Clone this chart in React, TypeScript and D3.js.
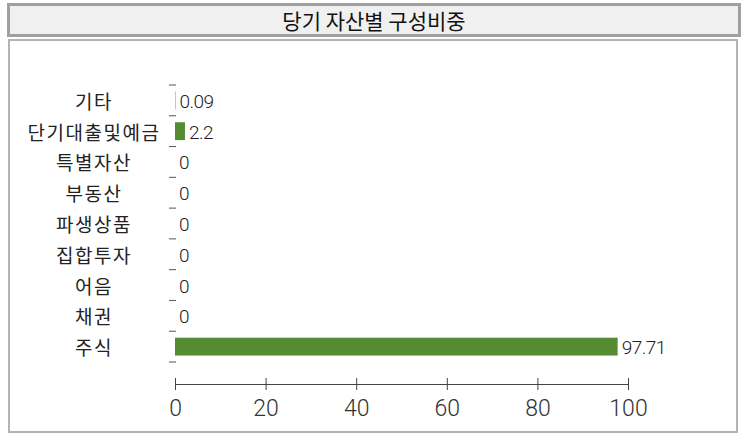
import React, { useEffect, useRef } from 'react';
import * as d3 from 'd3';

const title = '당기 자산별 구성비중';
const categories = ['기타', '단기대출및예금', '특별자산', '부동산', '파생상품', '집합투자', '어음', '채권', '주식'];
const values = [0.09, 2.2, 0, 0, 0, 0, 0, 0, 97.71];
const xTicks = [0, 20, 40, 60, 80, 100];

const FONT = "'Noto Sans CJK KR', 'Noto Sans', sans-serif";
const NUM_FONT = "Roboto, 'Noto Sans', sans-serif";

const App = () => {
  const ref = useRef<SVGSVGElement>(null);

  useEffect(() => {
    const svg = d3.select(ref.current);
    svg.selectAll('*').remove();

    // title box
    svg
      .append('rect')
      .attr('x', 8.5)
      .attr('y', 4.5)
      .attr('width', 731)
      .attr('height', 31)
      .attr('fill', '#f0f0f0')
      .attr('stroke', '#a0a0a0')
      .attr('stroke-width', 3);
    svg
      .append('text')
      .attr('x', 374)
      .attr('y', 20)
      .attr('text-anchor', 'middle')
      .attr('dominant-baseline', 'central')
      .style('font-family', FONT)
      .style('font-size', '21px')
      .attr('fill', '#111')
      .text(title);

    // panel
    svg
      .append('rect')
      .attr('x', 9)
      .attr('y', 40)
      .attr('width', 728)
      .attr('height', 392)
      .attr('fill', '#fff')
      .attr('stroke', '#b4b4b4')
      .attr('stroke-width', 2);

    const x = d3.scaleLinear().domain([0, 100]).range([175, 628]);
    const y = d3.scaleBand<string>().domain(categories).range([85, 362]).paddingInner(0.42).paddingOuter(0.21);
    const step = y.step();
    const top = 85;

    // y tick marks at band boundaries
    const bounds = d3.range(categories.length + 1).map(i => top + i * step);
    svg
      .append('g')
      .selectAll('line')
      .data(bounds)
      .join('line')
      .attr('x1', 169)
      .attr('x2', 176)
      .attr('y1', d => d)
      .attr('y2', d => d)
      .attr('stroke', '#555')
      .attr('stroke-width', 1);

    // category labels
    svg
      .append('g')
      .selectAll('text')
      .data(categories)
      .join('text')
      .attr('x', 94)
      .attr('y', (d, i) => top + i * step + step / 2)
      .attr('text-anchor', 'middle')
      .attr('dominant-baseline', 'central')
      .style('font-family', FONT)
      .style('font-size', '19px')
      .style('letter-spacing', '1.5px')
      .attr('fill', '#222')
      .text(d => d);

    // bars
    svg
      .append('g')
      .selectAll('rect')
      .data(values)
      .join('rect')
      .attr('x', x(0))
      .attr('y', (d, i) => y(categories[i])!)
      .attr('width', d => x(d) - x(0))
      .attr('height', y.bandwidth())
      .attr('fill', '#558b31');

    // value labels
    svg
      .append('g')
      .selectAll('text')
      .data(values)
      .join('text')
      .attr('x', d => x(d) + 4)
      .attr('y', (d, i) => top + i * step + step / 2 + 1)
      .attr('dominant-baseline', 'central')
      .style('font-family', NUM_FONT)
      .style('font-size', '19px')
      .style('font-weight', 300)
      .style('letter-spacing', '-0.5px')
      .attr('fill', '#222')
      .text(d => String(d));

    // x axis
    const axisY = 384;
    const axis = svg
      .append('g')
      .attr('transform', `translate(0,${axisY})`)
      .call(
        d3
          .axisBottom(x)
          .tickValues(xTicks)
          .tickSize(0)
          .tickPadding(16)
          .tickFormat(d => String(d))
      );
    axis.select('.domain').attr('stroke', '#444');
    axis
      .selectAll('.tick text')
      .style('font-family', NUM_FONT)
      .style('font-size', '23px')
      .style('font-weight', 300)
      .attr('fill', '#333');
    axis
      .selectAll('.tick')
      .append('line')
      .attr('y1', -6)
      .attr('y2', 6)
      .attr('stroke', '#444');
  }, []);

  return (
    <svg
      ref={ref}
      width={747}
      height={434}
      style={{ position: 'absolute', left: 0, top: 0, background: '#fff' }}
    />
  );
};

export default App;
